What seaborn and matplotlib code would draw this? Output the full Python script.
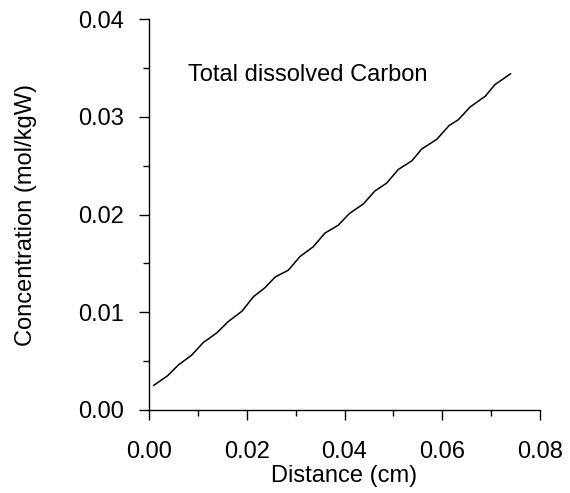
import matplotlib
matplotlib.use("Agg")
import matplotlib.pyplot as plt
from matplotlib.ticker import MultipleLocator, FormatStrFormatter
import seaborn as sns
import pandas as pd

# Total dissolved carbon profile along the diffusion column
distance_cm = [0.0009, 0.0038, 0.0060, 0.0087, 0.0111, 0.0139, 0.0161, 0.0190,
               0.0214, 0.0237, 0.0258, 0.0285, 0.0309, 0.0336, 0.0360, 0.0387,
               0.0410, 0.0439, 0.0462, 0.0486, 0.0510, 0.0538, 0.0558, 0.0589,
               0.0614, 0.0633, 0.0657, 0.0688, 0.0708, 0.0740]
conc_mol_kgw = [0.0025, 0.0035, 0.0046, 0.0056, 0.0069, 0.0079, 0.0090, 0.0101,
                0.0116, 0.0125, 0.0136, 0.0143, 0.0157, 0.0167, 0.0181, 0.0189,
                0.0201, 0.0211, 0.0224, 0.0232, 0.0246, 0.0255, 0.0267, 0.0277,
                0.0291, 0.0297, 0.0310, 0.0321, 0.0333, 0.0344]
x_ticks = [0.00, 0.02, 0.04, 0.06, 0.08]
y_ticks = [0.00, 0.01, 0.02, 0.03, 0.04]

sns.set_theme(style="ticks")
plt.rcParams["font.family"] = ["Liberation Sans", "DejaVu Sans"]

df = pd.DataFrame({"Distance": distance_cm, "Concentration": conc_mol_kgw})

fig = plt.figure(figsize=(5.7, 4.93), dpi=100)
ax = fig.add_axes([149 / 570, 83 / 493, 391 / 570, 391 / 493])

sns.lineplot(data=df, x="Distance", y="Concentration", ax=ax,
             color="black", linewidth=1.1, sort=False)

ax.set_xlim(0, 0.08)
ax.set_ylim(0, 0.04)
ax.set_xticks(x_ticks)
ax.set_yticks(y_ticks)
ax.xaxis.set_major_formatter(FormatStrFormatter("%.2f"))
ax.yaxis.set_major_formatter(FormatStrFormatter("%.2f"))
ax.xaxis.set_minor_locator(MultipleLocator(0.01))
ax.yaxis.set_minor_locator(MultipleLocator(0.005))

for side in ("top", "right"):
    ax.spines[side].set_visible(False)
for side in ("left", "bottom"):
    ax.spines[side].set_linewidth(1.0)
    ax.spines[side].set_color("black")

fs = 17
ax.tick_params(axis="both", which="major", direction="out", length=7.2,
               width=1.0, color="black", labelsize=fs, labelcolor="black")
ax.tick_params(axis="y", which="major", pad=11)
ax.tick_params(axis="x", which="major", pad=15)
ax.tick_params(axis="both", which="minor", direction="out", length=4.5,
               width=1.0, color="black")

ax.set_xlabel("Distance (cm)", fontsize=fs, color="black")
ax.set_ylabel("Concentration (mol/kgW)", fontsize=fs, color="black")
ax.xaxis.set_label_coords(0.5, -0.14)
ax.yaxis.set_label_coords(-0.286, 0.5)

ax.text(0.0080, 0.0343, "Total dissolved Carbon", fontsize=fs,
        ha="left", va="center", color="black")

fig.savefig("out.png", dpi=100)
